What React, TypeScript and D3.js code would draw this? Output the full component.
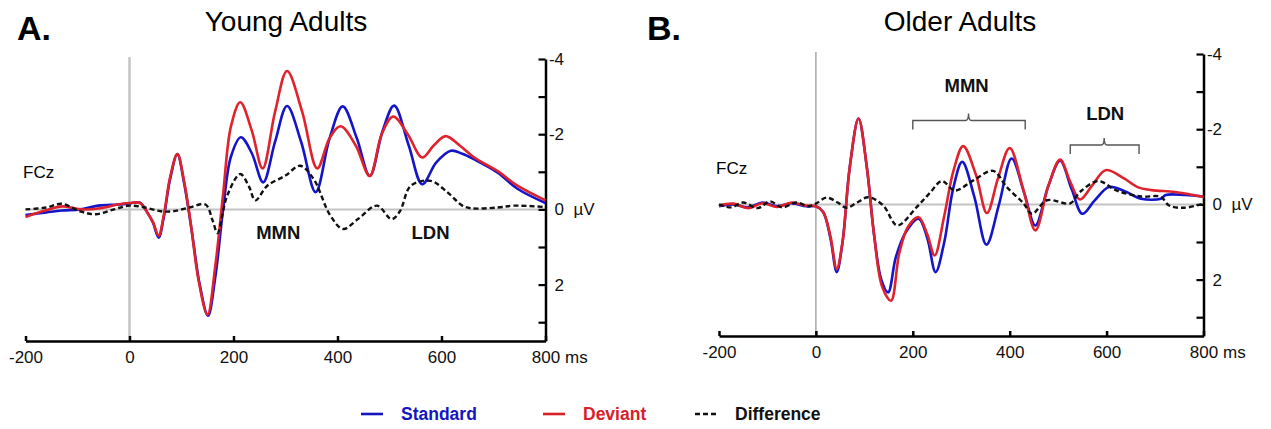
import React, { useEffect, useRef } from 'react';
import * as d3 from 'd3';

type Pt = [number, number];

// ERP waveforms at FCz: [time in ms, amplitude in µV] (negative is drawn up)
const youngStandard: Pt[] = [
  [-200, 0.15], [-160, 0.08], [-130, 0.03], [-95, 0.0], [-60, -0.1], [-20, -0.13], [0, -0.16],
  [20, -0.18], [35, 0.1], [45, 0.35], [56, 0.75], [66, 0.2], [78, -0.8], [92, -1.47], [105, -0.7],
  [120, 0.6], [135, 2.0], [151, 2.83], [165, 1.8], [180, 0.0], [195, -1.4], [214, -1.92], [235, -1.5],
  [257, -0.72], [280, -1.8], [303, -2.75], [330, -1.8], [358, -0.46], [385, -1.9], [410, -2.74],
  [437, -1.9], [462, -0.89], [487, -2.1], [509, -2.76], [537, -1.7], [563, -0.67], [590, -1.25],
  [618, -1.56], [640, -1.48], [663, -1.33], [708, -0.98], [746, -0.55], [800, -0.17],
];

const youngDeviant: Pt[] = [
  [-200, 0.2], [-162, 0.03], [-129, -0.08], [-94, 0.0], [-56, -0.03], [-23, -0.13], [0, -0.17],
  [20, -0.17], [35, 0.1], [45, 0.33], [56, 0.7], [66, 0.15], [78, -0.85], [92, -1.47], [105, -0.75],
  [118, 0.4], [133, 1.9], [150, 2.8], [165, 1.5], [180, -0.4], [195, -2.2], [213, -2.85], [235, -2.1],
  [256, -1.09], [280, -2.6], [303, -3.68], [332, -2.6], [361, -1.09], [385, -1.9], [406, -2.21],
  [435, -1.7], [462, -0.89], [485, -2.0], [507, -2.47], [535, -2.0], [563, -1.38], [585, -1.7],
  [608, -1.95], [635, -1.7], [663, -1.38], [708, -1.02], [746, -0.63], [800, -0.24],
];

const youngDifference: Pt[] = [
  [-200, 0.0], [-160, -0.05], [-130, -0.15], [-95, 0.05], [-65, 0.13], [-30, 0.0], [0, -0.1],
  [30, -0.05], [60, 0.05], [84, 0.05], [115, -0.05], [146, -0.13], [160, 0.3], [169, 0.63],
  [188, -0.37], [213, -0.94], [230, -0.6], [242, -0.24], [265, -0.63], [300, -0.9], [328, -1.16],
  [354, -0.81], [386, 0.16], [411, 0.52], [440, 0.25], [476, -0.1], [504, 0.26], [520, 0.05],
  [541, -0.63], [579, -0.76], [611, -0.46], [640, -0.1], [657, -0.03], [708, -0.05], [740, -0.1],
  [800, -0.06],
];

const olderStandard: Pt[] = [
  [-200, 0.05], [-170, 0.0], [-140, 0.08], [-110, -0.05], [-80, 0.05], [-50, -0.03], [-20, 0.05],
  [0, 0.05], [15, 0.2], [30, 0.9], [43, 1.8], [55, 1.0], [70, -1.0], [88, -2.28], [105, -1.0],
  [120, 0.8], [135, 2.0], [149, 2.34], [165, 1.4], [185, 0.75], [212, 0.38], [230, 0.9], [247, 1.8],
  [265, 1.0], [283, -0.4], [302, -1.13], [327, -0.2], [352, 1.07], [378, 0.0], [404, -1.22],
  [430, -0.3], [453, 0.56], [480, -0.5], [504, -1.16], [528, -0.4], [550, 0.25], [575, -0.1],
  [605, -0.46], [636, -0.36], [671, -0.15], [712, -0.15], [722, -0.25], [763, -0.25], [800, -0.21],
];

const olderDeviant: Pt[] = [
  [-200, 0.03], [-170, -0.02], [-140, 0.1], [-110, -0.03], [-80, 0.07], [-50, -0.05], [-20, 0.03],
  [0, 0.05], [15, 0.2], [30, 0.85], [43, 1.71], [55, 1.0], [70, -1.0], [88, -2.28], [105, -1.0],
  [120, 0.8], [137, 2.2], [155, 2.56], [172, 1.3], [190, 0.6], [212, 0.34], [230, 0.8], [245, 1.36],
  [265, 0.3], [284, -0.9], [304, -1.55], [330, -0.8], [353, 0.23], [376, -0.7], [400, -1.5],
  [428, -0.4], [453, 0.69], [480, -0.5], [504, -1.19], [525, -0.6], [545, -0.13], [570, -0.5],
  [598, -0.91], [636, -0.69], [664, -0.46], [693, -0.38], [741, -0.33], [800, -0.2],
];

const olderDifference: Pt[] = [
  [-200, 0.0], [-175, 0.08], [-150, -0.05], [-120, 0.1], [-95, -0.08], [-70, 0.08], [-40, -0.05],
  [-15, 0.05], [0, -0.02], [22, -0.18], [45, -0.05], [63, 0.09], [85, -0.05], [108, -0.19],
  [139, 0.03], [168, 0.56], [208, 0.07], [235, -0.3], [260, -0.62], [287, -0.37], [325, -0.64],
  [366, -0.89], [394, -0.46], [429, -0.02], [446, 0.25], [477, -0.11], [525, -0.03], [545, -0.33],
  [583, -0.62], [620, -0.37], [671, -0.21], [712, -0.2], [729, 0.03], [760, 0.09], [800, -0.02],
];

const xTicks = [-200, 0, 200, 400, 600, 800];
const yTicks = [-4, -3, -2, -1, 0, 1, 2, 3];

// component labels: [label, time (ms), amplitude (µV) of text baseline]
const youngComponents: [string, number, number][] = [['MMN', 286, 0.79], ['LDN', 579, 0.79]];
const olderComponents: [string, number, number][] = [['MMN', 311, -3.0], ['LDN', 597, -2.25]];
// brackets: [from ms, to ms, notch ms, top µV]
const olderBrackets: [number, number, number, number][] = [[200, 432, 315, -2.23], [525, 667, 595, -1.58]];

const legendItems = [
  { label: 'Standard', color: '#1515c0', dash: null },
  { label: 'Deviant', color: '#d8202a', dash: null },
  { label: 'Difference', color: '#111', dash: '5,3' },
];

const FONT = 'Liberation Sans, Arial, sans-serif';
const BLUE = '#1414c8';
const RED = '#e0222c';

const panels = [
  {
    letter: 'A.', letterX: 17, title: 'Young Adults', titleX: 286,
    standard: youngStandard, deviant: youngDeviant, difference: youngDifference,
    components: youngComponents, brackets: [] as [number, number, number, number][],
    left: 25.5, right: 545.5, top: 59, bottom: 341, zeroTop: 57,
    vColor: '#c4c4c4', vWidth: 2.5, fczX: 23, fczY: 178,
  },
  {
    letter: 'B.', letterX: 647, title: 'Older Adults', titleX: 960,
    standard: olderStandard, deviant: olderDeviant, difference: olderDifference,
    components: olderComponents, brackets: olderBrackets,
    left: 719, right: 1203.5, top: 54, bottom: 336, zeroTop: 52,
    vColor: '#9a9a9a', vWidth: 1.3, fczX: 716, fczY: 174,
  },
];

function drawPanel(svg: d3.Selection<SVGSVGElement, unknown, null, undefined>, p: typeof panels[number]) {
  const g = svg.append('g');
  const x = d3.scaleLinear().domain([-200, 800]).range([p.left, p.right]);
  const y = d3.scaleLinear().domain([-4, 3.5]).range([p.top, p.bottom]);

  // letter + title
  g.append('text').attr('x', p.letterX).attr('y', 40).attr('font-family', FONT)
    .attr('font-weight', 'bold').attr('font-size', 34).text(p.letter);
  g.append('text').attr('x', p.titleX).attr('y', 31).attr('font-family', FONT)
    .attr('font-size', 28).attr('text-anchor', 'middle').text(p.title);
  g.append('text').attr('x', p.fczX).attr('y', p.fczY).attr('font-family', FONT)
    .attr('font-size', 17).text('FCz');

  // zero lines
  g.append('line').attr('x1', x(-200)).attr('x2', x(800)).attr('y1', y(0)).attr('y2', y(0))
    .attr('stroke', '#c4c4c4').attr('stroke-width', 2);
  g.append('line').attr('x1', x(0)).attr('x2', x(0)).attr('y1', p.zeroTop).attr('y2', p.bottom)
    .attr('stroke', p.vColor).attr('stroke-width', p.vWidth);

  // axes
  const xAxis = d3.axisBottom(x).tickValues(xTicks).tickSize(-5).tickPadding(10)
    .tickSizeOuter(0).tickFormat(d => String(d));
  const xg = g.append('g').attr('transform', `translate(0,${p.bottom})`).call(xAxis)
    .attr('font-family', FONT).attr('font-size', 17);
  xg.select('.domain').attr('stroke-width', 2.5).attr('stroke', '#000');
  xg.selectAll('.tick line').attr('stroke-width', 2.5).attr('stroke', '#000');
  xg.selectAll('.tick text').attr('fill', '#111');

  const yAxis = d3.axisRight(y).tickValues(yTicks).tickSize(-7).tickPadding(18.5)
    .tickSizeOuter(0).tickFormat(d => ((d as number) % 2 === 0 ? String(d) : ''));
  const yg = g.append('g').attr('transform', `translate(${p.right},0)`).call(yAxis)
    .attr('font-family', FONT).attr('font-size', 17);
  yg.select('.domain').attr('stroke-width', 2.5).attr('stroke', '#000');
  yg.selectAll('.tick line').attr('stroke-width', 2.2).attr('stroke', '#000');
  yg.selectAll('.tick text').attr('text-anchor', 'end').attr('fill', '#111');

  g.append('text').attr('x', p.right + 28).attr('y', y(0)).attr('dy', '0.32em')
    .attr('font-family', FONT).attr('font-size', 17).attr('fill', '#111').text('µV');
  g.append('text').attr('x', x(800) + 19.5).attr('y', p.bottom + 10).attr('dy', '0.71em')
    .attr('font-family', FONT).attr('font-size', 17).attr('fill', '#111').text('ms');

  // component labels and brackets
  p.components.forEach(([label, t, v]) => {
    g.append('text').attr('x', x(t)).attr('y', y(v)).attr('text-anchor', 'middle')
      .attr('font-family', FONT).attr('font-weight', 'bold').attr('font-size', 18.5)
      .attr('fill', '#111').text(label);
  });
  p.brackets.forEach(([a, b, m, v]) => {
    const top = y(v);
    const path = d3.path();
    path.moveTo(x(a), top + 9);
    path.lineTo(x(a), top);
    path.lineTo(x(m) - 3, top);
    path.quadraticCurveTo(x(m), top, x(m), top - 7);
    path.quadraticCurveTo(x(m), top, x(m) + 3, top);
    path.lineTo(x(b), top);
    path.lineTo(x(b), top + 9);
    g.append('path').attr('d', path.toString()).attr('fill', 'none')
      .attr('stroke', '#555').attr('stroke-width', 1.4);
  });

  // waveforms
  const line = d3.line<Pt>().x(d => x(d[0])).y(d => y(d[1])).curve(d3.curveCatmullRom.alpha(0.5));
  g.append('path').attr('d', line(p.standard)).attr('fill', 'none').attr('stroke', BLUE).attr('stroke-width', 2.6);
  g.append('path').attr('d', line(p.deviant)).attr('fill', 'none').attr('stroke', RED).attr('stroke-width', 2.6);
  g.append('path').attr('d', line(p.difference)).attr('fill', 'none').attr('stroke', '#111')
    .attr('stroke-width', 2.4).attr('stroke-dasharray', '5,3');
}

export default function App() {
  const ref = useRef<SVGSVGElement>(null);

  useEffect(() => {
    const svg = d3.select(ref.current as SVGSVGElement);
    svg.selectAll('*').remove();
    panels.forEach(p => drawPanel(svg, p));

    // legend
    const legendX = [361, 543, 695];
    const legend = svg.append('g');
    legendItems.forEach((item, i) => {
      legend.append('line').attr('x1', legendX[i]).attr('x2', legendX[i] + 22)
        .attr('y1', 414).attr('y2', 414).attr('stroke', item.color).attr('stroke-width', 2.6)
        .attr('stroke-dasharray', item.dash);
      legend.append('text').attr('x', legendX[i] + 40).attr('y', 420)
        .attr('font-family', FONT).attr('font-weight', 'bold').attr('font-size', 17.5)
        .attr('fill', item.color).text(item.label);
    });
  }, []);

  return (
    <div style={{ position: 'absolute', left: 0, top: 0 }}>
      <svg ref={ref} width={1271} height={429} style={{ display: 'block', background: '#fff' }} />
    </div>
  );
}
